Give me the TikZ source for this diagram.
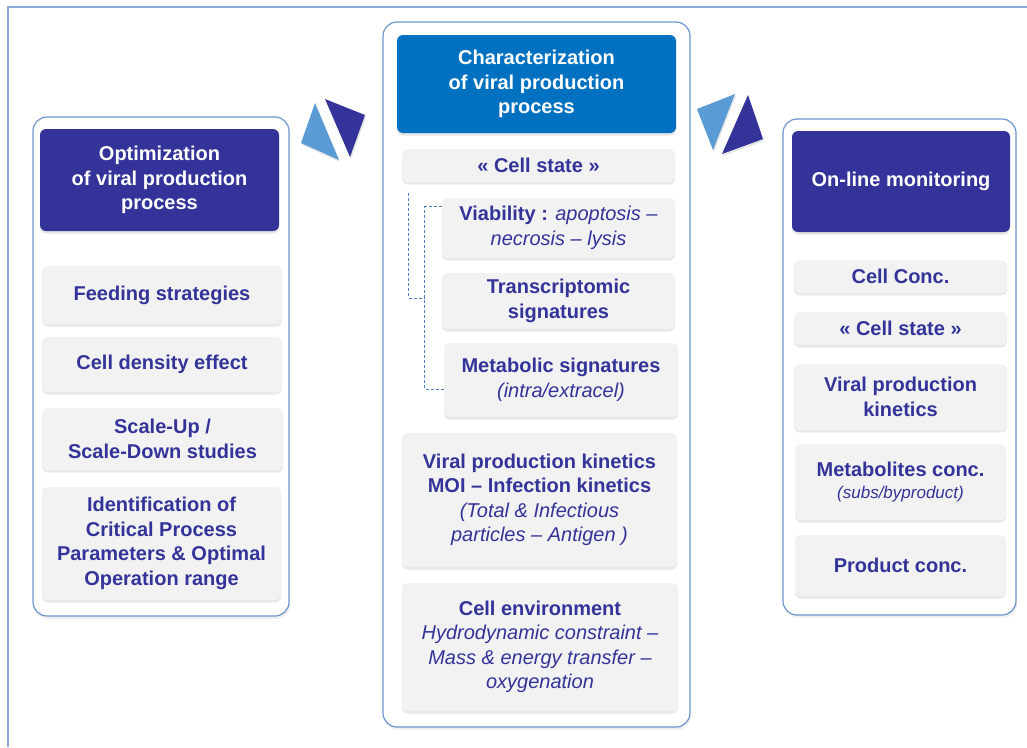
\documentclass[tikz,border=0pt]{standalone}
\usepackage{fontspec}
\setmainfont{Liberation Sans}
\usepackage{tikz}
\usetikzlibrary{shadows}

\definecolor{navy}{RGB}{51,51,153}
\definecolor{ocean}{RGB}{0,112,192}
\definecolor{edgeblue}{RGB}{108,150,205}
\definecolor{sky}{RGB}{91,155,213}
\definecolor{frameblue}{RGB}{142,170,219}
\definecolor{boxgray}{RGB}{242,242,242}
\definecolor{dashblue}{RGB}{79,129,189}

\tikzset{
  panel/.style={draw=edgeblue, line width=1.2pt, fill=white, rounded corners=14pt, inner sep=0pt,
    drop shadow={shadow xshift=1pt, shadow yshift=-3pt, opacity=0.12}},
  head/.style={fill=navy, text=white, rounded corners=6pt, align=center, inner sep=0pt,
    font=\fontsize{20}{24.5}\selectfont\bfseries,
    drop shadow={shadow xshift=0pt, shadow yshift=-2.5pt, opacity=0.2}},
  item/.style={fill=boxgray, text=navy, rounded corners=6pt, align=center, inner sep=0pt,
    font=\fontsize{20}{24.5}\selectfont\bfseries,
    drop shadow={shadow xshift=0pt, shadow yshift=-2.5pt, opacity=0.18}},
  bracket/.style={draw=dashblue, line width=0.8pt, dash pattern=on 3pt off 2pt},
  tri/.style={drop shadow={shadow xshift=1pt, shadow yshift=-2pt, opacity=0.2}},
}

\begin{document}
\begin{tikzpicture}[x=1pt,y=-1pt]
\useasboundingbox (0,0) rectangle (1027,747);
\draw[frameblue, line width=2pt] (8,747) -- (8,7) -- (1027,7);

\node[panel, minimum width=256pt, minimum height=499pt] (left) at (161,366.5) {};
\node[panel, minimum width=307pt, minimum height=705pt] (mid) at (536.5,374.5) {};
\node[panel, minimum width=233pt, minimum height=496pt] (right) at (899.5,367) {};

\fill[tri, sky] (301,143) -- (315,103) -- (339,160) -- cycle;
\fill[tri, navy] (325,99) -- (365,115) -- (350,157) -- cycle;
\fill[tri, sky] (697,109) -- (735,94) -- (713,150) -- cycle;
\fill[tri, navy] (748,95) -- (763,139) -- (722,154) -- cycle;

\node[head, minimum width=239pt, minimum height=102pt] (opt) at (159.5,180) {Optimization\\of viral production\\process};
\node[item, minimum width=240pt, minimum height=58pt] (feed) at (162,295) {Feeding strategies};
\node[item, minimum width=240pt, minimum height=55pt] (dens) at (162,364.5) {Cell density effect};
\node[item, minimum width=241pt, minimum height=62pt] (scale) at (162.5,439) {Scale-Up /\\Scale-Down studies};
\node[item, minimum width=239pt, minimum height=113pt] (ident) at (161.5,543.5) {Identification of\\Critical Process\\Parameters \& Optimal\\Operation range};

\node[head, fill=ocean, minimum width=279pt, minimum height=98pt] (char) at (536.5,84) {Characterization\\of viral production\\process};
\node[item, minimum width=273pt, minimum height=33pt] (state) at (538.5,165.5) {« Cell state »};
\node[item, minimum width=233pt, minimum height=60pt] (viab) at (558.5,228) {Viability : \mdseries\itshape apoptosis –\\\mdseries\itshape necrosis – lysis};
\node[item, minimum width=233pt, minimum height=56pt] (transc) at (558.5,301) {Transcriptomic\\signatures};
\node[item, minimum width=234pt, minimum height=74pt] (metab) at (561,380) {Metabolic signatures\\\mdseries\itshape (intra/extracel)};
\node[item, minimum width=275pt, minimum height=134pt] (moi) at (539.5,500) {Viral production kinetics\\MOI – Infection kinetics\\\mdseries\itshape (Total \& Infectious\\\mdseries\itshape particles – Antigen )};
\node[item, minimum width=276pt, minimum height=128pt] (env) at (540,647) {Cell environment\\\mdseries\itshape Hydrodynamic constraint –\\\mdseries\itshape Mass \& energy transfer –\\\mdseries\itshape oxygenation};

\node[head, minimum width=218pt, minimum height=101pt] (mon) at (901,181.5) {On-line monitoring};
\node[item, minimum width=213pt, minimum height=33pt] (conc) at (900.5,276.5) {Cell Conc.};
\node[item, minimum width=213pt, minimum height=33pt] (rstate) at (900.5,328.5) {« Cell state »};
\node[item, minimum width=213pt, minimum height=66pt] (kin) at (900.5,397) {Viral production\\kinetics};
\node[item, minimum width=211pt, minimum height=76pt] (metc) at (900.5,482) {Metabolites conc.\\[-3pt]{\fontsize{17}{20}\selectfont\mdseries\itshape (subs/byproduct)}};
\node[item, minimum width=211pt, minimum height=61pt] (prod) at (900.5,565.5) {Product conc.};

\draw[bracket] ([yshift=-9pt]viab.north west) -| ([xshift=-19pt,yshift=-9pt]metab.west) -- ([yshift=-9pt]metab.west);
\draw[bracket] ([xshift=7pt,yshift=-11pt]state.south west) |- ([xshift=-17pt,yshift=3pt]transc.west);
\end{tikzpicture}
\end{document}
